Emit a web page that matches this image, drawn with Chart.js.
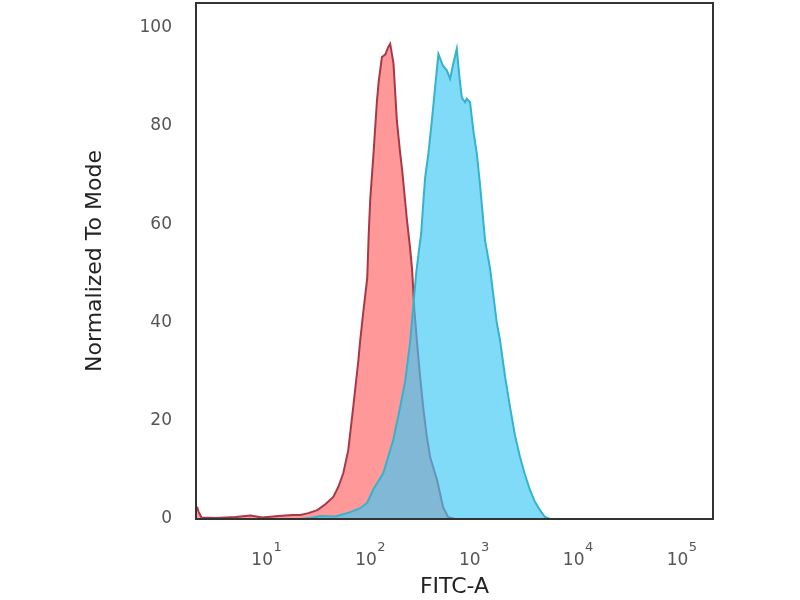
<!DOCTYPE html>
<html>
<head>
<meta charset="utf-8">
<script src="https://cdn.jsdelivr.net/npm/chart.js@4.4.1/dist/chart.umd.min.js"></script>
<style>
  html, body { margin: 0; padding: 0; background: #fff; }
</style>
</head>
<body>
<canvas id="flowchart" width="800" height="600"></canvas>
<script>
// FITC-A intensity and % of mode
var controlX = [2.15, 2.22, 2.37, 3.23, 5.03, 7.02, 9.15, 13.05, 17.78, 21.23, 25.34, 30.94, 36.93, 44.09,
  49.24, 55.02, 61.45, 68.63, 76.66, 80.13, 85.63, 93.58, 96.74, 100, 107.6, 116.0, 120.7, 129.6, 139.4,
  149.0, 155.7, 167.5, 180.6, 194.3, 203.1, 225.4, 242.4, 253.4, 264.9, 281.2, 299.2, 323.3, 349.4,
  377.6, 440.9, 503.4, 562.3, 656.8];
var controlY = [2.5, 1.5, 0.3, 0.2, 0.4, 0.7, 0.3, 0.6, 0.8, 0.8, 1.2, 1.8, 3.0, 4.5,
  6.5, 9.3, 14, 22.8, 32, 36.4, 42, 49, 58, 65, 74.4, 85, 89, 94, 94.5,
  96, 96.7, 92.7, 81, 74.4, 71, 61, 55, 50.6, 43, 36.4, 30, 22.8, 17,
  12.6, 7.9, 2.4, 0.4, 0];

var stainedX = [21.23, 28.31, 33.05, 46.09, 64.21, 80.13, 93.58, 106.9, 133.4, 166.4, 194.3, 217.0,
  242.4, 259.1, 276.9, 295.9, 309.3, 323.3, 338.0, 363.5, 392.0, 421.7, 453.6, 500.0, 546.4, 587.9,
  628.3, 681.9, 722.3, 761.7, 819.7, 850.9, 915.0, 984.7, 1062, 1142, 1276, 1425, 1653, 1778, 1987,
  2219, 2479, 2769, 3093, 3455, 3859, 4311, 4816, 5380];
var stainedY = [0, 0.3, 0.6, 0.5, 1.4, 2.2, 3.3, 6, 9.3, 16, 22.8, 28,
  36, 43, 50, 55, 58, 64, 69.5, 74.4, 81, 87.9, 94.6, 92.3, 91.3, 89.6,
  92.5, 95.7, 90, 85.8, 84.8, 85.5, 84.8, 79, 74.4, 68, 56.7, 51, 40, 36.4, 29,
  22.8, 17, 12.6, 9, 5.9, 3.5, 1.8, 0.4, 0];

var xTickValues = [10, 100, 1000, 10000, 100000];
var xTickBase = '10';
var xTickPowers = ['1', '2', '3', '4', '5'];

function toPoints(xs, ys) {
  return xs.map(function (x, i) { return { x: x, y: ys[i] }; });
}

// box round the plot area, and the small exponents next to each "10"
var frame = {
  id: 'frame',
  afterDraw: function (chart) {
    var a = chart.chartArea, ctx = chart.ctx;
    ctx.save();
    ctx.strokeStyle = '#333';
    ctx.lineWidth = 2;
    ctx.strokeRect(a.left, a.top, a.right - a.left, a.bottom - a.top);

    var xs = chart.scales.x;
    ctx.fillStyle = '#555';
    ctx.font = '13px "DejaVu Sans"';
    ctx.textAlign = 'left';
    ctx.textBaseline = 'top';
    xTickValues.forEach(function (v, i) {
      ctx.fillText(xTickPowers[i], xs.getPixelForValue(v) + 7, a.bottom + 22);
    });
    ctx.restore();
  }
};

var tickFont = { family: 'DejaVu Sans', size: 17 };
var titleFont = { family: 'DejaVu Sans', size: 22 };

new Chart(document.getElementById('flowchart'), {
  type: 'line',
  data: {
    datasets: [{
      label: 'Stained',
      data: toPoints(stainedX, stainedY),
      borderColor: '#35b3cc',
      backgroundColor: 'rgba(60,200,245,0.65)',
      borderWidth: 2,
      pointRadius: 0,
      tension: 0,
      fill: 'origin'
    }, {
      label: 'Control',
      data: toPoints(controlX, controlY),
      borderColor: '#a83848',
      backgroundColor: 'rgba(255,110,110,0.7)',
      borderWidth: 2,
      pointRadius: 0,
      tension: 0,
      fill: 'origin'
    }]
  },
  options: {
    responsive: false,
    animation: false,
    layout: { padding: { top: 3, right: 87, left: 0, bottom: 0 } },
    plugins: {
      legend: { display: false },
      tooltip: { enabled: false }
    },
    scales: {
      x: {
        type: 'logarithmic',
        min: 2.1,
        max: 200000,
        grid: { display: false, drawTicks: false, tickLength: 0 },
        border: { display: false },
        afterBuildTicks: function (scale) {
          scale.ticks = xTickValues.map(function (v) { return { value: v }; });
        },
        afterFit: function (scale) {
          scale.height = 81;
          scale.paddingLeft = 0;
          scale.paddingRight = 0;
        },
        ticks: {
          autoSkip: false,
          maxRotation: 0,
          padding: 31,
          color: '#555',
          font: tickFont,
          callback: function (v) {
            // trailing spaces leave room for the exponent
            return xTickValues.indexOf(v) >= 0 ? xTickBase + '\u2002' : '';
          }
        },
        title: {
          display: true,
          text: 'FITC-A',
          color: '#222',
          font: titleFont,
          padding: { top: 0, bottom: 0 }
        }
      },
      y: {
        min: 0,
        max: 105,
        grid: { display: false, drawTicks: false, tickLength: 0 },
        border: { display: false },
        afterFit: function (scale) {
          scale.width = 196;
          scale.paddingTop = 0;
          scale.paddingBottom = 0;
        },
        ticks: {
          stepSize: 20,
          includeBounds: false,
          padding: 24,
          color: '#555',
          font: tickFont
        },
        title: {
          display: true,
          text: 'Normalized To Mode',
          color: '#222',
          font: titleFont,
          padding: { top: 82, bottom: 0 }
        }
      }
    }
  },
  plugins: [frame]
});
</script>
</body>
</html>
